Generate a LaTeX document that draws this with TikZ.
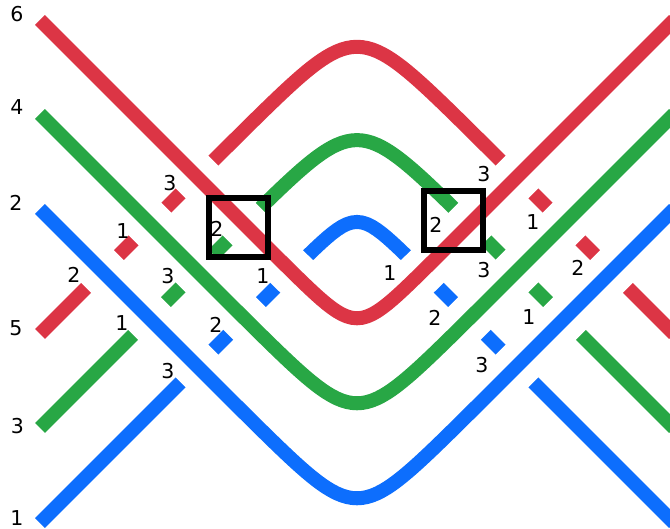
\documentclass[tikz,border=0pt]{standalone}
\usepackage{fontspec}
\setsansfont{DejaVu Sans}
\usepackage{xcolor}
\definecolor{StrandRed}{RGB}{220,53,69}
\definecolor{StrandGreen}{RGB}{40,167,69}
\definecolor{StrandBlue}{RGB}{13,110,253}

\begin{document}
\begin{tikzpicture}[x=1pt,y=-1pt,
    strand/.style={line width=14pt},
    strandgap/.style={white,line width=46pt},
    lbl/.style={font=\sffamily\fontsize{20.5}{24}\selectfont,inner sep=0pt},
    crossbox/.style={draw=black,line width=6pt,minimum size=59pt,inner sep=0pt}]
  \useasboundingbox (0,0) rectangle (670,529);
  \clip (0,0) rectangle (670,529);

  % arches, cut where the V strands pass over them
  \foreach \col/\ap/\soft in {StrandRed/17/43,StrandGreen/111/42,StrandBlue/206/23}
    \draw[strand,\col] plot[domain=-317:317,samples=127]
      ({357+\x},{\ap+abs(\x)+\soft*ln(1+exp(-2*abs(\x)/\soft))});

  % V strands on top
  \foreach \col/\ap/\soft in {StrandRed/337/27,StrandGreen/431/40,StrandBlue/526/40}{
    \draw[strandgap] plot[domain=-317:317,samples=127]
      ({357+\x},{\ap-abs(\x)-\soft*ln(1+exp(-2*abs(\x)/\soft))});
    \draw[strand,\col] plot[domain=-317:317,samples=127]
      ({357+\x},{\ap-abs(\x)-\soft*ln(1+exp(-2*abs(\x)/\soft))});
  }

  % strand numbers at the left
  \node[lbl] (n6) at (17,14.5) {6};
  \node[lbl] (n4) at (17,107.5) {4};
  \node[lbl] (n2) at (16,203) {2};
  \node[lbl] (n5) at (16,328) {5};
  \node[lbl] (n3) at (17.5,426) {3};
  \node[lbl] (n1) at (17,518) {1};

  % piece labels, left side
  \node[lbl] (r2L) at (74,275) {2};
  \node[lbl] (r1L) at (123,231) {1};
  \node[lbl] (r3L) at (170,183) {3};
  \node[lbl] (g1L) at (122,323) {1};
  \node[lbl] (g3L) at (168,276) {3};
  \node[lbl] (g2L) at (217,229) {2};
  \node[lbl] (b3L) at (168,371) {3};
  \node[lbl] (b2L) at (216,325) {2};
  \node[lbl] (b1L) at (263,276) {1};

  % piece labels, right side
  \node[lbl] (r3R) at (484,174) {3};
  \node[lbl] (r1R) at (533,222) {1};
  \node[lbl] (r2R) at (578,268) {2};
  \node[lbl] (g2R) at (436,225) {2};
  \node[lbl] (g3R) at (484,270) {3};
  \node[lbl] (g1R) at (529,317) {1};
  \node[lbl] (b1R) at (390,273) {1};
  \node[lbl] (b2R) at (435,318) {2};
  \node[lbl] (b3R) at (482,365) {3};

  \node[crossbox] (boxL) at (238,227.5) {};
  \node[crossbox] (boxR) at (453.5,220.5) {};
\end{tikzpicture}
\end{document}
